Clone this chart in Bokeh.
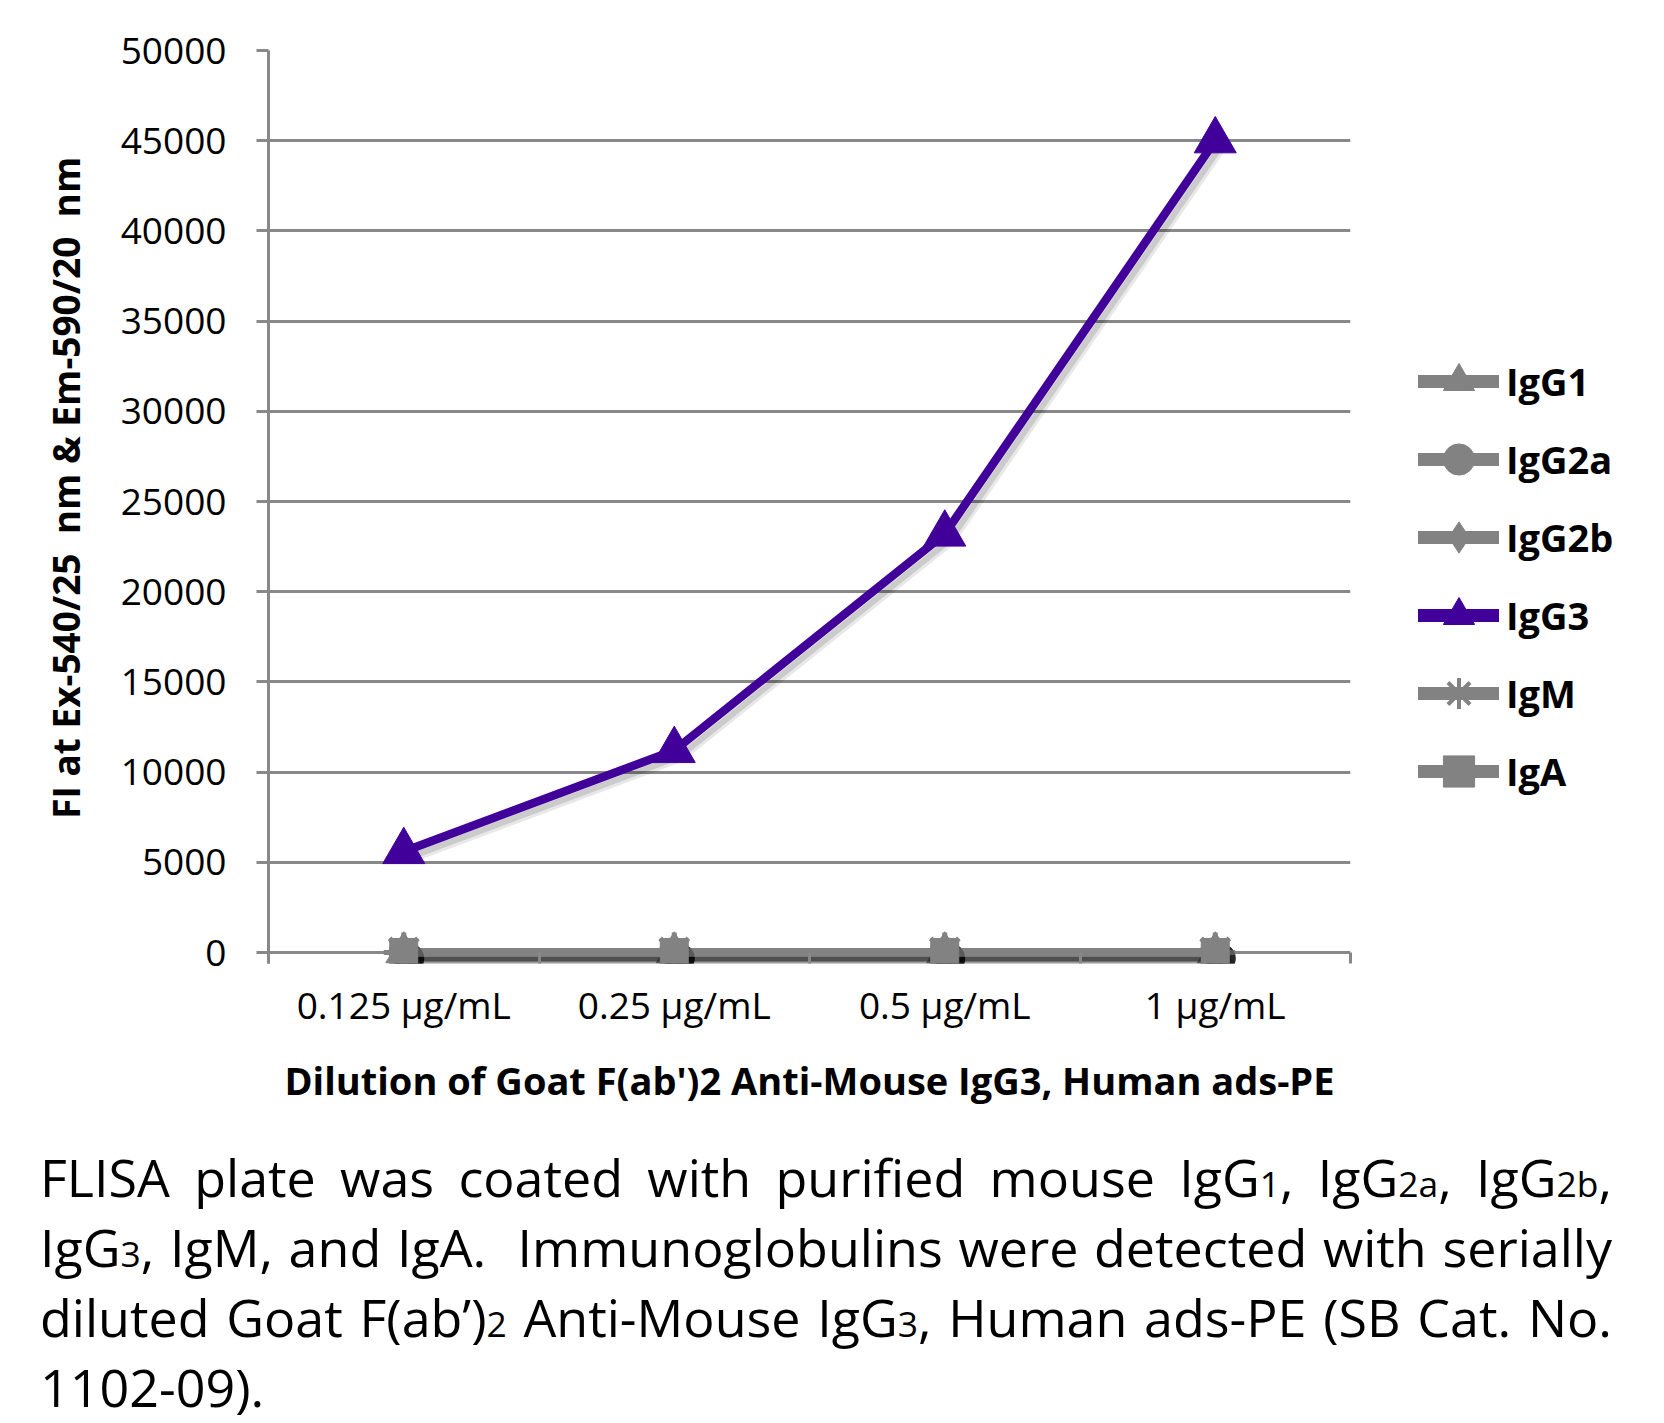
from bokeh.plotting import figure
from bokeh.models import (Range1d, FixedTicker, Legend, LegendItem, Div, ColumnDataSource, Dodge)
from bokeh.transform import transform
from bokeh.layouts import column, row
from bokeh.embed import file_html
from bokeh.resources import INLINE

# ---- data ----
categories = ["0.125 µg/mL", "0.25 µg/mL", "0.5 µg/mL", "1 µg/mL"]
igg1 = [0, 0, 0, 0]
igg2a = [0, 0, 0, 0]
igg2b = [0, 0, 0, 0]
igg3 = [5600, 11200, 23200, 45000]
igm = [0, 0, 0, 0]
iga = [0, 0, 0, 0]
y_ticks = [0, 5000, 10000, 15000, 20000, 25000, 30000, 35000, 40000, 45000, 50000]

GRAY = "#828282"
GRID = "#888888"
PURPLE = "#41009a"
FONT = "Open Sans"

TOTAL_W = 1660
H = 1137
LEFT, TOP = 268, 50
FRAME_W = 1082
FRAME_H = 902          # height from 0 to 50000
BELOW = 11             # frame continues below 0 (boundary ticks live there)
pad = (y_ticks[-1] - y_ticks[0]) * BELOW / FRAME_H
P_W = LEFT + FRAME_W + 2

xpos = [i + 0.5 for i in range(len(categories))]

p = figure(width=P_W, height=H, output_backend="svg", toolbar_location=None,
           x_range=Range1d(0, len(categories)),
           y_range=Range1d(y_ticks[0] - pad, y_ticks[-1]),
           min_border_left=LEFT, min_border_right=2, min_border_top=TOP,
           min_border_bottom=H - TOP - FRAME_H - BELOW)
p.outline_line_color = None
p.background_fill_color = "white"
p.border_fill_color = "white"

# x axis: its line is the 0 grid line; boundary ticks point up from the frame edge
p.xaxis.ticker = FixedTicker(ticks=xpos, minor_ticks=list(range(len(categories) + 1)))
p.xaxis.major_label_overrides = {x: c for x, c in zip(xpos, categories)}
p.xaxis.major_tick_out = 0
p.xaxis.major_tick_in = 0
p.xaxis.minor_tick_out = 0
p.xaxis.minor_tick_in = BELOW
p.xaxis.minor_tick_line_color = GRID
p.xaxis.minor_tick_line_width = 3
p.xaxis.axis_line_color = None
p.xaxis.major_label_text_font = FONT
p.xaxis.major_label_text_font_size = "37px"
p.xaxis.major_label_text_color = "black"
p.xaxis.major_label_standoff = 15
p.xaxis.axis_label = "Dilution of Goat F(ab')2 Anti-Mouse IgG3, Human ads-PE"
p.xaxis.axis_label_text_font = FONT
p.xaxis.axis_label_text_font_style = "bold"
p.xaxis.axis_label_text_font_size = "38px"
p.xaxis.axis_label_text_color = "black"
p.xaxis.axis_label_standoff = 21
p.xgrid.grid_line_color = None

# y axis
p.yaxis.ticker = FixedTicker(ticks=y_ticks, minor_ticks=[])
p.yaxis.major_tick_out = 12
p.yaxis.major_tick_in = 0
p.yaxis.major_tick_line_color = GRID
p.yaxis.major_tick_line_width = 3
p.yaxis.axis_line_color = GRID
p.yaxis.axis_line_width = 3
p.yaxis.major_label_text_font = FONT
p.yaxis.major_label_text_font_size = "37px"
p.yaxis.major_label_text_color = "black"
p.yaxis.major_label_standoff = 30
p.yaxis.axis_label = "\u00a0\u00a0\u00a0\u00a0FI at Ex-540/25\u00a0 nm & Em-590/20\u00a0 nm"
p.yaxis.axis_label_text_font = FONT
p.yaxis.axis_label_text_font_style = "bold"
p.yaxis.axis_label_text_font_size = "37px"
p.yaxis.axis_label_text_color = "black"
p.yaxis.axis_label_standoff = 27
p.ygrid.ticker = FixedTicker(ticks=y_ticks)
p.ygrid.grid_line_color = GRID
p.ygrid.grid_line_width = 3

# ---- series ----
series = [
    ("IgG1", igg1, GRAY, "triangle", 36),
    ("IgG2a", igg2a, GRAY, "circle", 30),
    ("IgG2b", igg2b, GRAY, "diamond", 38),
    ("IgG3", igg3, PURPLE, "triangle", 42),
    ("IgM", igm, GRAY, "asterisk", 40),
    ("IgA", iga, GRAY, "square", 28),
]

# soft drop shadow offsets (styling only)
sx = Dodge(value=0.02)
sy = Dodge(value=-330)

order = [0, 1, 2, 4, 5, 3]
for idx in order:
    name, vals, col, mk, sz = series[idx]
    src = ColumnDataSource(dict(x=xpos, y=vals))
    p.line(transform("x", sx), transform("y", sy), source=src, line_color="black",
           line_alpha=0.09, line_width=12)
    p.line(transform("x", sx), transform("y", sy), source=src, line_color="black",
           line_alpha=0.12, line_width=6)
    p.line("x", "y", source=src, line_color=col, line_width=8.5)
    if col == GRAY:
        p.scatter(transform("x", sx), transform("y", sy), source=src, marker="circle", size=30,
                  fill_color="black", fill_alpha=0.3, line_color=None)
    if mk == "asterisk":
        p.scatter("x", "y", source=src, marker=mk, size=sz, line_color=col, line_width=5)
    else:
        p.scatter("x", "y", source=src, marker=mk, size=sz, fill_color=col, line_color=col)

# ---- legend (own small figure to the right of the chart) ----
L_W = TOTAL_W - P_W
lf = figure(width=L_W, height=H, output_backend="svg", toolbar_location=None,
            x_range=Range1d(0, 1), y_range=Range1d(0, 1),
            x_axis_type=None, y_axis_type=None,
            min_border_left=0, min_border_right=0, min_border_top=0, min_border_bottom=0)
lf.outline_line_color = None
lf.grid.grid_line_color = None
lf.background_fill_color = "white"
lf.border_fill_color = "white"

blank = [float("nan")] * len(categories)
items = []
for name, vals, col, mk, sz in series:
    lsrc = ColumnDataSource(dict(x=xpos, y=blank))
    lr = lf.line("x", "y", source=lsrc, line_color=col, line_width=13, line_cap="round")
    if mk == "asterisk":
        mr = lf.scatter("x", "y", source=lsrc, marker=mk, line_color=col, line_width=4)
    else:
        mr = lf.scatter("x", "y", source=lsrc, marker=mk, fill_color=col, line_color=col)
    items.append(LegendItem(label=name, renderers=[lr, mr], index=0))

legend = Legend(items=items, location=(1418 - P_W, 153))
legend.border_line_color = None
legend.background_fill_alpha = 0
legend.padding = 0
legend.margin = 0
legend.spacing = 0
legend.glyph_width = 81
legend.glyph_height = 78
legend.label_height = 78
legend.label_standoff = 7
legend.label_text_font = FONT
legend.label_text_font_style = "bold"
legend.label_text_font_size = "38px"
legend.label_text_color = "black"
lf.add_layout(legend)

# ---- caption ----
def sub(t):
    return '<span style="font-size:0.68em;line-height:0">' + t + '</span>'

line1 = ["FLISA", "plate", "was", "coated", "with", "purified", "mouse",
         "IgG" + sub("1") + ",", "IgG" + sub("2a") + ",", "IgG" + sub("2b") + ","]
line2 = "IgG" + sub("3") + ", IgM, and IgA.&nbsp; Immunoglobulins were detected with serially"
line3 = "diluted Goat F(ab’)" + sub("2") + " Anti-Mouse IgG" + sub("3") + ", Human ads-PE (SB Cat. No."
line4 = "1102-09)."

def just(words):
    return ('<div style="display:flex;justify-content:space-between;white-space:nowrap;height:70px">'
            + "".join("<span>" + w + "</span>" for w in words) + "</div>")

def just_str(s):
    return ('<div style="white-space:nowrap;text-align:justify;text-align-last:justify;height:70px">'
            + s + "</div>")

html = ('<div style="font-family:\'Open Sans\';font-size:52px;line-height:70px;color:#000;'
        'width:1572px;margin-left:35px">'
        + just(line1) + just_str(line2) + just_str(line3)
        + '<div style="white-space:nowrap;height:70px">' + line4 + "</div></div>")

div = Div(text=html, width=TOTAL_W, height=1423 - H)

layout = column(row(p, lf, spacing=0), div, spacing=0)
open("out.html", "w").write(file_html(layout, INLINE))
